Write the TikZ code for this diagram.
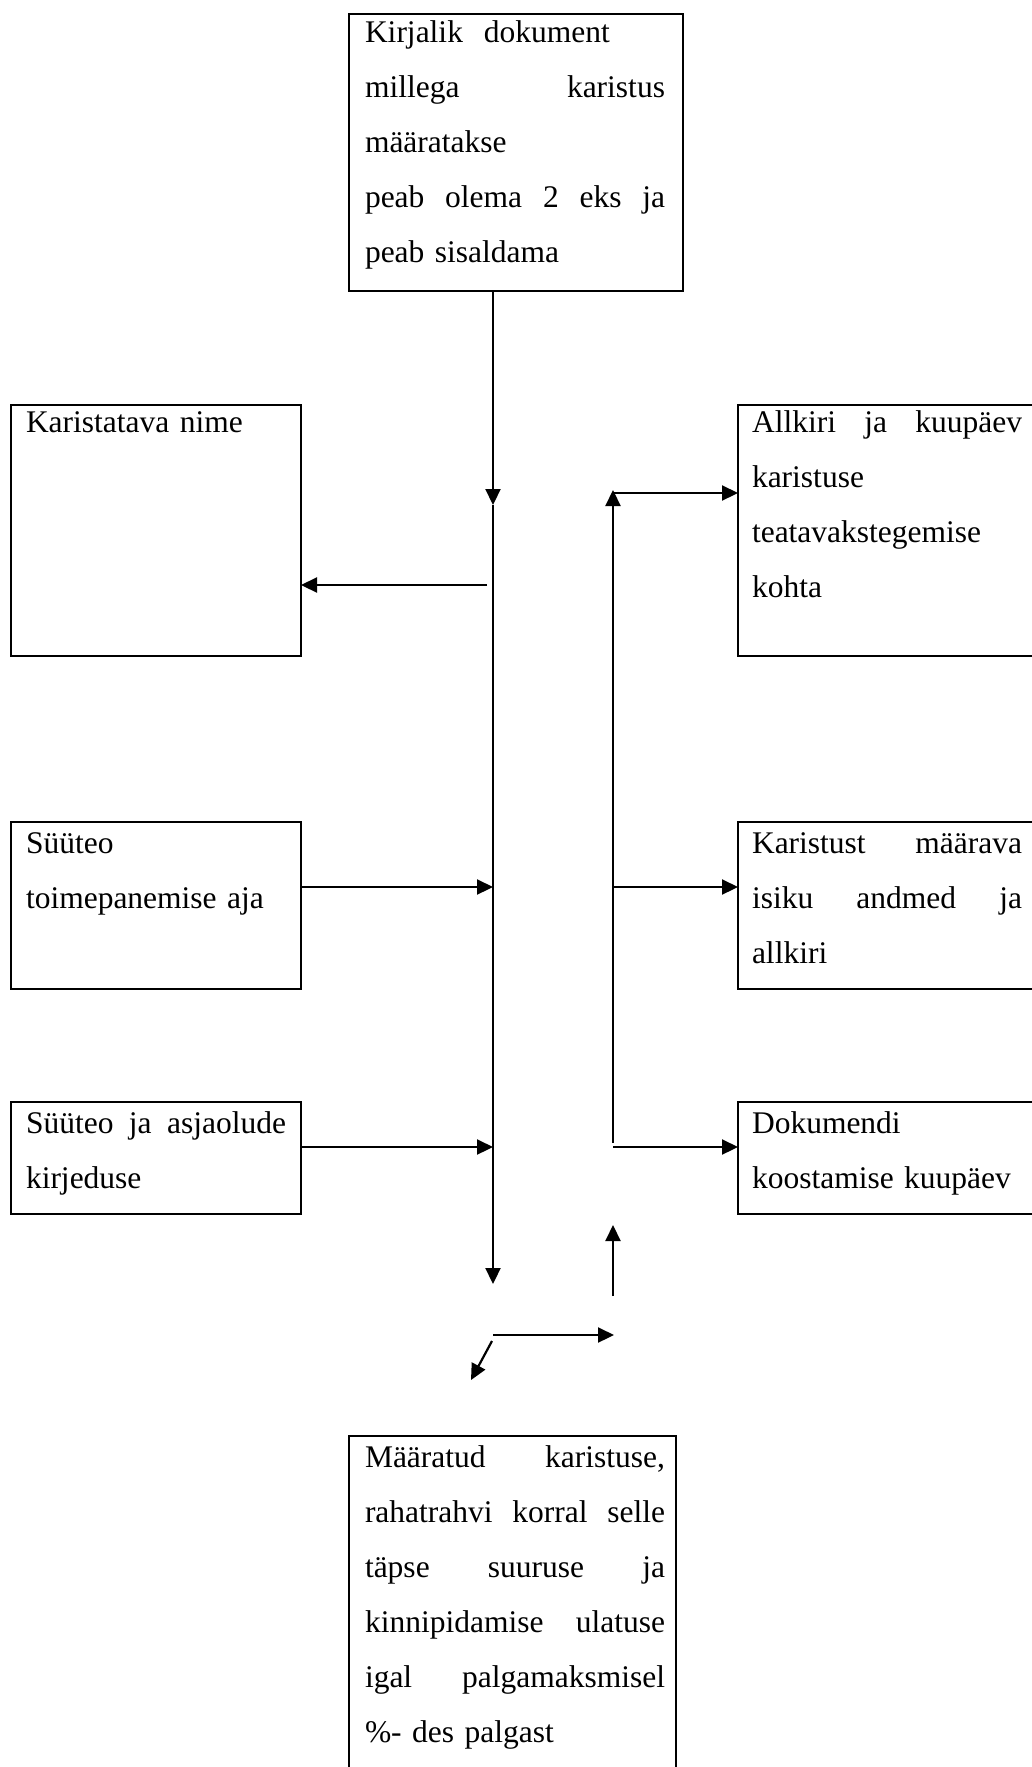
\documentclass[tikz,border=0pt]{standalone}
\usepackage{fontspec}
\setmainfont{Liberation Serif}
\usetikzlibrary{arrows.meta}
\newcommand\jline[2]{\leavevmode\hbox to #1{#2}}
\begin{document}
\begin{tikzpicture}[x=1pt,y=-1pt,
  box/.style={draw, line width=2.8pt, inner sep=0pt, outer sep=0pt, anchor=north west},
  txt/.style={anchor=base west, inner sep=0pt, outer sep=0pt, align=left, font=\fontsize{31.5}{55}\selectfont},
  arr/.style={line width=2.2pt, -{Triangle[length=16pt,width=15pt]}}]
\useasboundingbox (0,0) rectangle (1032,1767);
\clip (0,0) rectangle (1032,1767);
\fill[white] (0,0) rectangle (1032,1767);
% boxes
\node[box, minimum width=334pt, minimum height=277pt] (top) at (349,14) {};
\node[box, minimum width=290pt, minimum height=251pt] (l1) at (11,405) {};
\node[box, minimum width=290pt, minimum height=167pt] (l2) at (11,822) {};
\node[box, minimum width=290pt, minimum height=112pt] (l3) at (11,1102) {};
\node[box, minimum width=400pt, minimum height=251pt] (r1) at (738,405) {};
\node[box, minimum width=400pt, minimum height=167pt] (r2) at (738,822) {};
\node[box, minimum width=400pt, minimum height=112pt] (r3) at (738,1102) {};
\node[box, minimum width=327pt, minimum height=400pt] (bot) at (349,1436) {};
% texts
\node[txt, text width=300pt] (ttop) at (365,42) {Kirjalik\ \ dokument\\ \jline{300pt}{millega\hfill karistus}\\ määratakse\\ \jline{300pt}{peab\hfill olema\hfill 2\hfill eks\hfill ja}\\ peab sisaldama};
\node[txt, text width=260pt] (tl1) at (26,432) {Karistatava nime};
\node[txt, text width=260pt] (tl2) at (26,853) {Süüteo\\ toimepanemise aja};
\node[txt, text width=260pt] (tl3) at (26,1133) {\jline{260pt}{Süüteo\hfill ja\hfill asjaolude}\\ kirjeduse};
\node[txt, text width=270pt] (tr1) at (752,432) {\jline{270pt}{Allkiri\hfill ja\hfill kuupäev}\\ karistuse\\ teatavakstegemise\\ kohta};
\node[txt, text width=270pt] (tr2) at (752,853) {\jline{270pt}{Karistust\hfill määrava}\\ \jline{270pt}{isiku\hfill andmed\hfill ja}\\ allkiri};
\node[txt, text width=270pt] (tr3) at (752,1133) {Dokumendi\\ koostamise kuupäev};
\node[txt, text width=300pt] (tbot) at (365,1467) {\jline{300pt}{Määratud\hfill karistuse,}\\ \jline{300pt}{rahatrahvi\hfill korral\hfill selle}\\ \jline{300pt}{täpse\hfill suuruse\hfill ja}\\ \jline{300pt}{kinnipidamise\hfill ulatuse}\\ \jline{300pt}{igal\hfill palgamaksmisel}\\ \%- des palgast};
% junction coordinates
\coordinate (mtip) at (493,505);
\coordinate (mend) at (493,1284);
\coordinate (s1) at (487,585);
\coordinate (m2) at (493,887);
\coordinate (m3) at (493,1147);
\coordinate (rv0) at (613,1143);
\coordinate (rvtip) at (613,490);
\coordinate (rt) at (613,493);
\coordinate (r2s) at (613,887);
\coordinate (r3s) at (613,1147);
\coordinate (ua) at (613,1296);
\coordinate (ub) at (613,1225);
\coordinate (ha) at (493,1335);
\coordinate (hb) at (614,1335);
\coordinate (da) at (492,1341);
\coordinate (db) at (471,1380);
% connectors
\draw[arr] (493,0 |- top.south) -- (mtip);
\draw[arr] (mtip) -- (mend);
\draw[arr] (s1) -- (s1 -| l1.east);
\draw[arr] (m2 -| l2.east) -- (m2);
\draw[arr] (m3 -| l3.east) -- (m3);
\draw[arr] (rv0) -- (rvtip);
\draw[arr] (rt) -- (rt -| r1.west);
\draw[arr] (r2s) -- (r2s -| r2.west);
\draw[arr] (r3s) -- (r3s -| r3.west);
\draw[arr] (ua) -- (ub);
\draw[arr] (ha) -- (hb);
\draw[arr] (da) -- (db);
\end{tikzpicture}
\end{document}
